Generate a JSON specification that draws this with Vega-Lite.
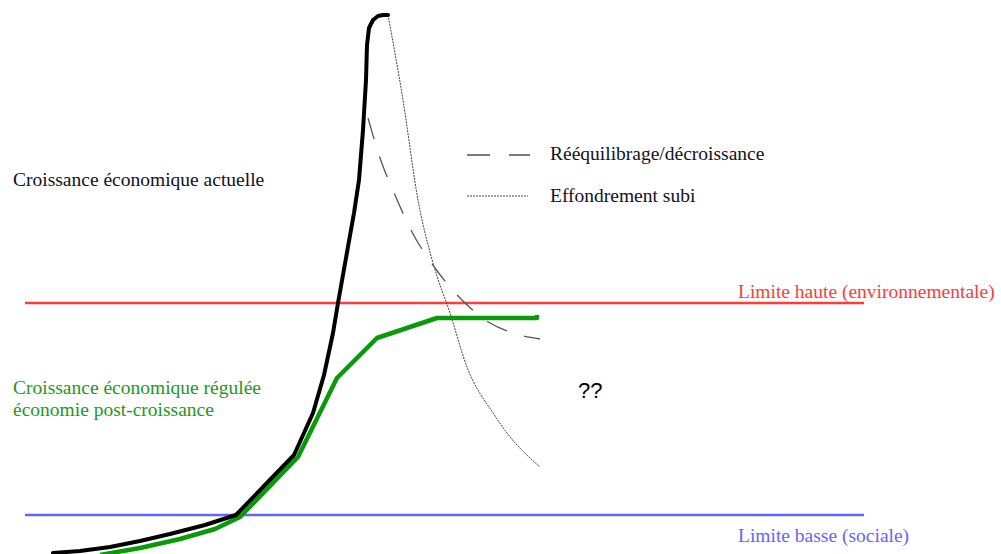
{
  "$schema": "https://vega.github.io/schema/vega-lite/v6.json",
  "width": 1001,
  "height": 554,
  "padding": 0,
  "autosize": {"type": "fit", "contains": "padding"},
  "background": "white",
  "config": {"view": {"stroke": null}},
  "datasets": {
    "limits": [
      {"name": "haute", "x": 25, "y": 303},
      {"name": "haute", "x": 864, "y": 303},
      {"name": "basse", "x": 25, "y": 515},
      {"name": "basse", "x": 864, "y": 515}
    ],
    "actuelle": [
      {"x": 53, "y": 553}, {"x": 80, "y": 551}, {"x": 110, "y": 547}, {"x": 140, "y": 541}, {"x": 170, "y": 534},
      {"x": 205, "y": 525}, {"x": 236, "y": 515}, {"x": 265, "y": 485}, {"x": 294, "y": 455},
      {"x": 313, "y": 413}, {"x": 324, "y": 375}, {"x": 333, "y": 333}, {"x": 338, "y": 303},
      {"x": 346, "y": 258}, {"x": 354, "y": 213}, {"x": 359, "y": 180}, {"x": 363, "y": 130},
      {"x": 366, "y": 80}, {"x": 367, "y": 45}, {"x": 369, "y": 28}, {"x": 373, "y": 20},
      {"x": 378, "y": 16}, {"x": 383, "y": 15}, {"x": 388, "y": 15}
    ],
    "regulee": [
      {"x": 100, "y": 555}, {"x": 140, "y": 548}, {"x": 180, "y": 539}, {"x": 215, "y": 529},
      {"x": 240, "y": 517}, {"x": 298, "y": 457}, {"x": 337, "y": 378}, {"x": 377, "y": 338},
      {"x": 437, "y": 318}, {"x": 537, "y": 318}, {"x": 537, "y": 315}
    ],
    "reequilibrage": [
      {"x": 368, "y": 118}, {"x": 380, "y": 158}, {"x": 395, "y": 195}, {"x": 412, "y": 232},
      {"x": 435, "y": 268}, {"x": 460, "y": 298}, {"x": 490, "y": 323}, {"x": 510, "y": 332},
      {"x": 540, "y": 339}
    ],
    "effondrement": [
      {"x": 388, "y": 15}, {"x": 403, "y": 100}, {"x": 418, "y": 200}, {"x": 433, "y": 263},
      {"x": 450, "y": 313}, {"x": 467, "y": 367}, {"x": 493, "y": 413}, {"x": 507, "y": 433},
      {"x": 540, "y": 467}
    ],
    "legendDash": [
      {"seg": "a", "x": 467, "y": 155}, {"seg": "a", "x": 490, "y": 155},
      {"seg": "b", "x": 509, "y": 155}, {"seg": "b", "x": 530, "y": 155}
    ],
    "legendDot": [
      {"x": 467, "y": 196}, {"x": 528, "y": 196}
    ],
    "labelsBlack": [
      {"x": 13, "y": 180, "label": "Croissance économique actuelle"},
      {"x": 550, "y": 154, "label": "Rééquilibrage/décroissance"},
      {"x": 550, "y": 196, "label": "Effondrement subi"}
    ],
    "labelsGreen": [
      {"x": 13, "y": 388, "label": "Croissance économique régulée"},
      {"x": 13, "y": 410, "label": "économie post-croissance"}
    ],
    "labelsRed": [
      {"x": 738, "y": 292, "label": "Limite haute (environnementale)"}
    ],
    "labelsBlue": [
      {"x": 738, "y": 536, "label": "Limite basse (sociale)"}
    ],
    "labelsQ": [
      {"x": 578, "y": 391, "label": "??"}
    ]
  },
  "encoding": {
    "x": {"field": "x", "type": "quantitative", "scale": {"domain": [0, 1001], "nice": false, "zero": false}, "axis": null},
    "y": {"field": "y", "type": "quantitative", "scale": {"domain": [0, 554], "nice": false, "zero": false, "reverse": true}, "axis": null}
  },
  "layer": [
    {
      "data": {"name": "limits"},
      "transform": [{"filter": "datum.name === 'haute'"}],
      "mark": {"type": "line", "color": "#ff3b3b", "strokeWidth": 2.5, "clip": true}
    },
    {
      "data": {"name": "limits"},
      "transform": [{"filter": "datum.name === 'basse'"}],
      "mark": {"type": "line", "color": "#6464ff", "strokeWidth": 2.5, "clip": true}
    },
    {
      "data": {"name": "effondrement"},
      "mark": {"type": "line", "color": "#444444", "strokeWidth": 1, "strokeDash": [2, 1], "interpolate": "monotone", "clip": true}
    },
    {
      "data": {"name": "reequilibrage"},
      "mark": {"type": "line", "color": "#555555", "strokeWidth": 1.3, "strokeDash": [22, 18], "interpolate": "monotone", "clip": true}
    },
    {
      "data": {"name": "regulee"},
      "mark": {"type": "line", "color": "#089a08", "strokeWidth": 4.5, "strokeJoin": "round", "clip": true}
    },
    {
      "data": {"name": "actuelle"},
      "mark": {"type": "line", "color": "#000000", "strokeWidth": 4, "strokeJoin": "round", "strokeCap": "round", "clip": true}
    },
    {
      "data": {"name": "legendDash"},
      "mark": {"type": "line", "color": "#333333", "strokeWidth": 1.3, "clip": true},
      "encoding": {"detail": {"field": "seg"}}
    },
    {
      "data": {"name": "legendDot"},
      "mark": {"type": "line", "color": "#444444", "strokeWidth": 1, "strokeDash": [2, 1], "clip": true}
    },
    {
      "data": {"name": "labelsBlack"},
      "mark": {"type": "text", "align": "left", "baseline": "middle", "font": "Liberation Serif", "fontSize": 19.5, "color": "#111122"},
      "encoding": {"text": {"field": "label"}}
    },
    {
      "data": {"name": "labelsGreen"},
      "mark": {"type": "text", "align": "left", "baseline": "middle", "font": "Liberation Serif", "fontSize": 19.5, "color": "#1a9a1a"},
      "encoding": {"text": {"field": "label"}}
    },
    {
      "data": {"name": "labelsRed"},
      "mark": {"type": "text", "align": "left", "baseline": "middle", "font": "Liberation Serif", "fontSize": 19.5, "color": "#ff3b3b"},
      "encoding": {"text": {"field": "label"}}
    },
    {
      "data": {"name": "labelsBlue"},
      "mark": {"type": "text", "align": "left", "baseline": "middle", "font": "Liberation Serif", "fontSize": 19.5, "color": "#6464ff"},
      "encoding": {"text": {"field": "label"}}
    },
    {
      "data": {"name": "labelsQ"},
      "mark": {"type": "text", "align": "left", "baseline": "middle", "font": "Liberation Sans", "fontSize": 22, "color": "#000000"},
      "encoding": {"text": {"field": "label"}}
    }
  ]
}
